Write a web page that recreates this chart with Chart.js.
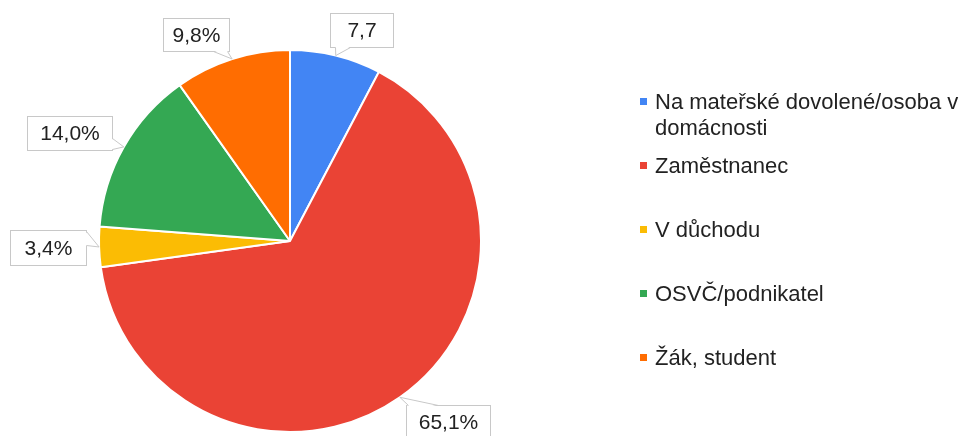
<!DOCTYPE html>
<html>
<head>
<meta charset="utf-8">
<script src="https://cdn.jsdelivr.net/npm/chart.js@4/dist/chart.umd.min.js"></script>
<style>
  body { margin: 0; background: #fff; font-family: "Liberation Sans", Arial, sans-serif; }
  #wrap { position: relative; width: 963px; height: 436px; }
  #legend { position: absolute; left: 0; top: 0; }
  .item { position: absolute; left: 655px; width: 306px; font-size: 22px; line-height: 26px; color: #222; }
  .item i { position: absolute; left: -15px; top: 9px; width: 7px; height: 7px; }
</style>
</head>
<body>
<div id="wrap">
  <canvas id="chart" width="963" height="436"></canvas>
  <div id="legend"></div>
</div>
<script>
// Données du graphique
const categories = ['Na mateřské dovolené/osoba v domácnosti', 'Zaměstnanec', 'V důchodu', 'OSVČ/podnikatel', 'Žák, student'];
const values = [7.7, 65.1, 3.4, 14.0, 9.8];
const valueLabels = ['7,7', '65,1%', '3,4%', '14,0%', '9,8%'];
const colors = ['#4285F4', '#EA4335', '#FBBC04', '#34A853', '#FF6D01'];

// Placement des bulles : décalage du coin haut-gauche par rapport à la pointe, largeur, queue
const bubbles = [
    { dx: -6, dy: -43, w: 63, h: 34, tail: ['bottom', 5, 20] },
    { dx: 6, dy: 8, w: 84, h: 34, tail: ['top', 2, 32] },
    { dx: -89, dy: -17, w: 76, h: 35, tail: ['right', 1, 15] },
    { dx: -97, dy: -31, w: 85, h: 34, tail: ['right', 22, 33] },
    { dx: -69, dy: -41, w: 66, h: 33, tail: ['bottom', 50, 64] }
];

// Plugin pour dessiner les étiquettes en bulles
const calloutPlugin = {
    id: 'callouts',
    afterDatasetsDraw(chart) {
        const ctx = chart.ctx;
        const arcs = chart.getDatasetMeta(0).data;
        ctx.save();
        ctx.font = '21px "Liberation Sans", Arial, sans-serif';
        ctx.textAlign = 'center';
        ctx.textBaseline = 'middle';
        arcs.forEach((arc, i) => {
            const a = (arc.startAngle + arc.endAngle) / 2;
            const tx = arc.x + Math.cos(a) * arc.outerRadius;
            const ty = arc.y + Math.sin(a) * arc.outerRadius;
            const b = bubbles[i];
            const x = Math.round(tx + b.dx) + 0.5;
            const y = Math.round(ty + b.dy) + 0.5;

            // Boîte
            ctx.fillStyle = '#fff';
            ctx.strokeStyle = '#c8c8c8';
            ctx.lineWidth = 1;
            ctx.fillRect(x, y, b.w, b.h);
            ctx.strokeRect(x, y, b.w, b.h);

            // Queue
            let p1, p2, q1, q2;
            const [edge, s, e] = b.tail;
            if (edge === 'bottom') {
                p1 = [x + s, y + b.h]; p2 = [x + e, y + b.h];
                q1 = [x + s, y + b.h - 1]; q2 = [x + e, y + b.h - 1];
            } else if (edge === 'top') {
                p1 = [x + s, y]; p2 = [x + e, y];
                q1 = [x + s, y + 1]; q2 = [x + e, y + 1];
            } else {
                p1 = [x + b.w, y + s]; p2 = [x + b.w, y + e];
                q1 = [x + b.w - 1, y + s]; q2 = [x + b.w - 1, y + e];
            }
            ctx.beginPath();
            ctx.moveTo(q1[0], q1[1]);
            ctx.lineTo(tx, ty);
            ctx.lineTo(q2[0], q2[1]);
            ctx.closePath();
            ctx.fill();
            ctx.beginPath();
            ctx.moveTo(p1[0], p1[1]);
            ctx.lineTo(tx, ty);
            ctx.lineTo(p2[0], p2[1]);
            ctx.stroke();

            // Texte
            ctx.fillStyle = '#222';
            ctx.fillText(valueLabels[i], x + b.w / 2, y + b.h / 2 + 1);
        });
        ctx.restore();
    }
};

const chart = new Chart(document.getElementById('chart'), {
    type: 'pie',
    data: {
        labels: categories,
        datasets: [{
            data: values,
            backgroundColor: colors,
            borderColor: '#ffffff',
            borderWidth: 2
        }]
    },
    options: {
        responsive: false,
        animation: false,
        events: [],
        layout: { padding: { left: 98, top: 49, right: 481, bottom: 3 } },
        plugins: {
            legend: { display: false },
            tooltip: { enabled: false }
        }
    },
    plugins: [calloutPlugin]
});

// Légende HTML
const legend = document.getElementById('legend');
categories.forEach((c, i) => {
    const div = document.createElement('div');
    div.className = 'item';
    div.style.top = (89 + i * 64) + 'px';
    div.innerHTML = '<i style="background:' + colors[i] + '"></i>' + c;
    legend.appendChild(div);
});
</script>
</body>
</html>
